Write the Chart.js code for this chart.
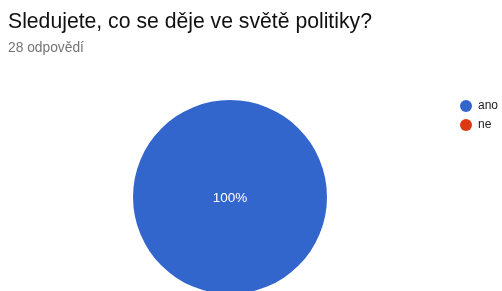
<!DOCTYPE html>
<html><head><meta charset="utf-8">
<script src="https://cdn.jsdelivr.net/npm/chart.js@4/dist/chart.umd.min.js"></script>
<style>
html,body{margin:0;padding:0;background:#fff;overflow:hidden;}
#wrap{position:relative;width:502px;height:291px;overflow:hidden;}
#title{position:absolute;left:8px;top:9px;font-family:"Liberation Sans",Arial,sans-serif;font-size:21.2px;color:#111111;white-space:nowrap;}
#sub{position:absolute;left:8px;top:40px;font-family:"Liberation Sans",Arial,sans-serif;font-size:13.8px;color:#757575;white-space:nowrap;}
#c{position:absolute;left:0;top:0;}
</style></head><body>
<div id="wrap">
<canvas id="c" width="502" height="300"></canvas>
<div id="title">Sledujete, co se děje ve světě politiky?</div>
<div id="sub">28 odpovědí</div>
</div>
<script>
const categories = ["ano", "ne"];
const values = [28, 0];
const colors = ["#3366cc", "#dc3912"];

const labelPlugin = {
  id: 'pieLabels',
  afterDatasetsDraw(chart) {
    const ctx = chart.ctx;
    const meta = chart.getDatasetMeta(0);
    const data = chart.data.datasets[0].data;
    const total = data.reduce((a, b) => a + b, 0);
    ctx.save();
    ctx.font = '13.5px "Liberation Sans", Arial, sans-serif';
    ctx.fillStyle = '#ffffff';
    ctx.textAlign = 'center';
    ctx.textBaseline = 'middle';
    meta.data.forEach((arc, i) => {
      const v = data[i];
      if (!v) return;
      const pct = Math.round(v / total * 1000) / 10;
      let x, y;
      if (v === total) { x = arc.x; y = arc.y; }
      else { const p = arc.tooltipPosition(); x = p.x; y = p.y; }
      ctx.fillText(pct + '%', x, y + 1.5);
    });
    ctx.restore();
  }
};

const legendPlugin = {
  id: 'customLegend',
  afterDraw(chart) {
    const ctx = chart.ctx;
    ctx.save();
    ctx.font = '12px "Liberation Sans", Arial, sans-serif';
    ctx.textBaseline = 'middle';
    chart.data.labels.forEach((lab, i) => {
      const cx = 466, cy = 106 + i * 19;
      ctx.beginPath();
      ctx.arc(cx, cy, 6, 0, Math.PI * 2);
      ctx.fillStyle = chart.data.datasets[0].backgroundColor[i];
      ctx.fill();
      ctx.fillStyle = '#222222';
      ctx.textAlign = 'left';
      ctx.fillText(lab, 478, cy);
    });
    ctx.restore();
  }
};

new Chart(document.getElementById('c'), {
  type: 'pie',
  data: {
    labels: categories,
    datasets: [{ data: values, backgroundColor: colors, borderWidth: 0 }]
  },
  options: {
    responsive: false,
    animation: false,
    layout: { padding: { top: 100, bottom: 6, left: 133, right: 175 } },
    plugins: { legend: { display: false }, tooltip: { enabled: false } }
  },
  plugins: [labelPlugin, legendPlugin]
});
</script>
</body></html>
